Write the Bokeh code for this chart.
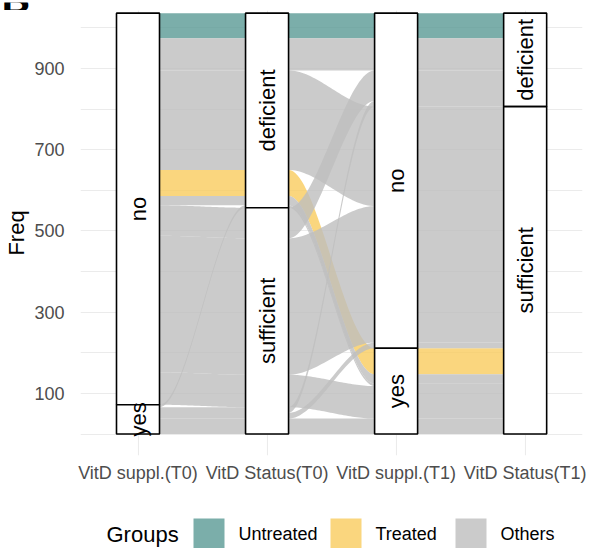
import math
import numpy as np
from bokeh.plotting import figure
from bokeh.layouts import column
from bokeh.models import FixedTicker
from bokeh.embed import file_html
from bokeh.resources import INLINE
from bokeh.core.properties import value

# ---------------- data ----------------
axis_names = ["VitD suppl.(T0)", "VitD Status(T0)", "VitD suppl.(T1)", "VitD Status(T1)"]
supp_levels = ["no", "yes"]
status_levels = ["deficient", "sufficient"]

supp_t0   = ["no", "no", "no", "no", "no", "no", "no", "no", "yes", "yes", "yes", "yes"]
status_t0 = ["deficient", "deficient", "deficient", "deficient", "deficient", "sufficient",
             "sufficient", "sufficient", "deficient", "sufficient", "sufficient", "sufficient"]
supp_t1   = ["no", "no", "no", "yes", "yes", "no", "no", "yes", "yes", "no", "no", "yes"]
status_t1 = ["deficient", "deficient", "sufficient", "sufficient", "sufficient", "deficient",
             "sufficient", "sufficient", "sufficient", "deficient", "sufficient", "sufficient"]
freq      = [62, 79, 245, 64, 23, 75, 336, 80, 6, 14, 14, 38]
groups    = ["Untreated", "Others", "Others", "Treated", "Others", "Others",
             "Others", "Others", "Others", "Others", "Others", "Others"]

group_levels = ["Untreated", "Treated", "Others"]
group_colors = ["#5A9A95", "#F9CC5E", "#BEBEBE"]
y_ticks = [100, 300, 500, 700, 900]
grid_y = [0, 100, 200, 300, 400, 500, 600, 700, 800, 900, 1000]
panel_tag = "B"
legend_title = "Groups"

FONT = "Liberation Sans"

# ---------------- ggalluvial-like lode stacking ----------------
columns = [supp_t0, status_t0, supp_t1, status_t1]
levels = [supp_levels, status_levels, supp_levels, status_levels]
n_ax = len(columns)
n = len(freq)
total = sum(freq)
W = 1.0 / 3.0
xpos = [1, 2, 3, 4]


def zigzag(nax, i):
    order = [i]
    left, right = i - 1, i + 1
    go_left = i <= (nax - 1 - i)
    while left >= 0 or right < nax:
        if (go_left and left >= 0) or right >= nax:
            order.append(left)
            left -= 1
        else:
            order.append(right)
            right += 1
        go_left = not go_left
    return order


tops = np.zeros((n, n_ax))
bots = np.zeros((n, n_ax))
for i in range(n_ax):
    order_axes = zigzag(n_ax, i)

    def key(k):
        return tuple(levels[a].index(columns[a][k]) for a in order_axes) + (group_levels.index(groups[k]),)

    y = total
    for k in sorted(range(n), key=key):
        tops[k, i] = y
        bots[k, i] = y - freq[k]
        y -= freq[k]


def smooth(t):
    return 3 * t ** 2 - 2 * t ** 3


def edge(vals):
    px, py = [], []
    for j in range(n_ax):
        px += [xpos[j] - W / 2, xpos[j] + W / 2]
        py += [vals[j], vals[j]]
        if j < n_ax - 1:
            x0 = xpos[j] + W / 2
            x1 = xpos[j + 1] - W / 2
            for t in np.linspace(0, 1, 40)[1:-1]:
                px.append(x0 + t * (x1 - x0))
                py.append(vals[j] + (vals[j + 1] - vals[j]) * smooth(t))
    return px, py


def no_align(fig):
    try:
        fig.frame_align = False
    except Exception:
        pass


# ---------------- top strip with the panel tag ----------------
p_top = figure(width=590, height=10, x_range=(0, 590), y_range=(0, 10),
               output_backend="svg", toolbar_location=None, title=None,
               x_axis_type=None, y_axis_type=None,
               min_border_left=0, min_border_right=0, min_border_top=0, min_border_bottom=0)
p_top.outline_line_color = None
p_top.grid.visible = False
p_top.text(x=[1], y=[0.5], text=[panel_tag], text_baseline="alphabetic", text_align="left",
           text_font_size="42px", text_font=value(FONT), text_font_style="bold", text_color="black")

# ---------------- main alluvial plot ----------------
p = figure(width=590, height=485, x_range=(0.5544, 4.4444), y_range=(-52.9, 1042.5),
           output_backend="svg", toolbar_location=None, title=None,
           min_border_left=80, min_border_right=8, min_border_top=0, min_border_bottom=40)
p.outline_line_color = None
p.background_fill_color = "white"

p.xgrid.ticker = FixedTicker(ticks=xpos)
p.ygrid.ticker = FixedTicker(ticks=grid_y)
p.grid.grid_line_color = "#EBEBEB"
p.grid.grid_line_width = 1.1

for g, col in zip(group_levels, group_colors):
    xs, ys = [], []
    for k in range(n):
        if groups[k] != g:
            continue
        tx, ty = edge(list(tops[k]))
        bx, by = edge(list(bots[k]))
        xs.append(tx + bx[::-1])
        ys.append(ty + by[::-1])
    p.patches(xs=xs, ys=ys, fill_color=col, fill_alpha=0.8, line_color=None)

# strata boxes and labels
s_left, s_right, s_bot, s_top, lab_x, lab_y, lab_t = [], [], [], [], [], [], []
for i in range(n_ax):
    y = total
    for lev in levels[i]:
        cnt = sum(f for f, v in zip(freq, columns[i]) if v == lev)
        s_left.append(xpos[i] - W / 2)
        s_right.append(xpos[i] + W / 2)
        s_top.append(y)
        s_bot.append(y - cnt)
        lab_x.append(xpos[i])
        lab_y.append(y - cnt / 2)
        lab_t.append(lev)
        y -= cnt

p.quad(left=s_left, right=s_right, bottom=s_bot, top=s_top,
       fill_color="white", line_color="black", line_width=1.6)
p.text(x=lab_x, y=lab_y, text=lab_t, angle=math.pi / 2, text_align="center",
       text_baseline="middle", text_font_size="22px", text_font=value(FONT), text_color="black")

# axes
p.xaxis.ticker = FixedTicker(ticks=xpos)
p.xaxis.major_label_overrides = {xp: nm for xp, nm in zip(xpos, axis_names)}
p.yaxis.ticker = FixedTicker(ticks=y_ticks)
for ax in (p.xaxis, p.yaxis):
    ax.axis_line_color = None
    ax.major_tick_line_color = None
    ax.minor_tick_line_color = None
    ax.major_label_text_font_size = "18px"
    ax.major_label_text_font = FONT
    ax.major_label_text_color = "#4D4D4D"
p.xaxis.major_label_standoff = 1
p.yaxis.major_label_standoff = 10
p.yaxis.axis_label = "Freq"
p.yaxis.axis_label_text_font_size = "22px"
p.yaxis.axis_label_text_font = FONT
p.yaxis.axis_label_text_font_style = "normal"
p.yaxis.axis_label_text_color = "black"
p.yaxis.axis_label_standoff = 2

# ---------------- legend strip (pixel coordinates) ----------------
p_leg = figure(width=590, height=53, x_range=(0, 590), y_range=(0, 53),
               output_backend="svg", toolbar_location=None, title=None,
               x_axis_type=None, y_axis_type=None,
               min_border_left=0, min_border_right=0, min_border_top=0, min_border_bottom=0)
p_leg.outline_line_color = None
p_leg.grid.visible = False

key_left = [193, 330, 455]      # swatch positions of the legend keys (layout)
key_size = 31
p_leg.quad(left=key_left, right=[k + key_size for k in key_left],
           bottom=[-1] * 3, top=[-1 + key_size] * 3,
           fill_color=group_colors, fill_alpha=0.8, line_color=None)
p_leg.text(x=[k + key_size + 14 for k in key_left], y=[14.5] * 3, text=group_levels,
           text_baseline="middle", text_align="left",
           text_font_size="18px", text_font=value(FONT), text_color="black")
p_leg.text(x=[106], y=[14.5], text=[legend_title], text_baseline="middle", text_align="left",
           text_font_size="22px", text_font=value(FONT), text_color="black")

for fig in (p_top, p, p_leg):
    no_align(fig)

layout = column(p_top, p, p_leg, spacing=0)
open("out.html", "w").write(file_html(layout, INLINE))
